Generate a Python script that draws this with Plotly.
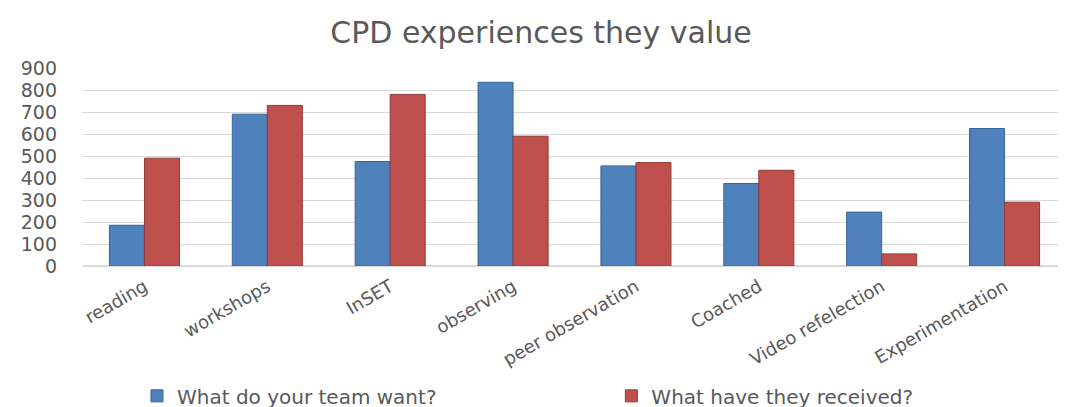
import plotly.graph_objects as go

categories = ["reading", "workshops", "InSET", "observing", "peer observation",
              "Coached", "Video refelection", "Experimentation"]
team_want = [185, 690, 475, 835, 455, 375, 245, 625]
received = [490, 730, 780, 590, 470, 435, 55, 290]
series_names = ["What do your team want?", "What have they received?"]
y_ticks = [0, 100, 200, 300, 400, 500, 600, 700, 800, 900]

fig = go.Figure()
fig.add_trace(go.Bar(x=categories, y=team_want, name=series_names[0], legend="legend",
                     marker=dict(color="#4F81BD", line=dict(color="#3B6496", width=1))))
fig.add_trace(go.Bar(x=categories, y=received, name=series_names[1], legend="legend2",
                     marker=dict(color="#C0504D", line=dict(color="#8E3A38", width=1))))

legend_font = dict(family="DejaVu Sans", size=20, color="#595959")
fig.update_layout(
    width=1066, height=407,
    margin=dict(l=75, r=8, t=60, b=149),
    paper_bgcolor="white", plot_bgcolor="white",
    bargap=0.43, bargroupgap=0,
    title=dict(text="CPD experiences they value", x=0.5, xref="container", xanchor="center",
               y=0.94, yref="container", yanchor="middle",
               font=dict(family="DejaVu Sans", size=30, color="#595959")),
    font=dict(family="DejaVu Sans", color="#595959"),
    legend=dict(orientation="h", xref="container", x=0.121, xanchor="left",
                yref="container", y=0.047, yanchor="middle", font=legend_font,
                itemwidth=30),
    legend2=dict(orientation="h", xref="container", x=0.566, xanchor="left",
                 yref="container", y=0.047, yanchor="middle", font=legend_font,
                 itemwidth=30),
    showlegend=True,
)
fig.update_yaxes(range=[0, 900], tickvals=y_ticks, showgrid=True, gridcolor="#D9D9D9",
                 gridwidth=1, zeroline=True, zerolinecolor="#D9D9D9", showline=False,
                 ticklabelstandoff=25, automargin=False,
                 tickfont=dict(family="DejaVu Sans", size=19, color="#595959"))
fig.update_xaxes(tickangle=-30, showline=False, ticks="", automargin=False,
                 ticklabelstandoff=6,
                 tickfont=dict(family="DejaVu Sans", size=18, color="#595959"))

fig.write_html("out.html")
